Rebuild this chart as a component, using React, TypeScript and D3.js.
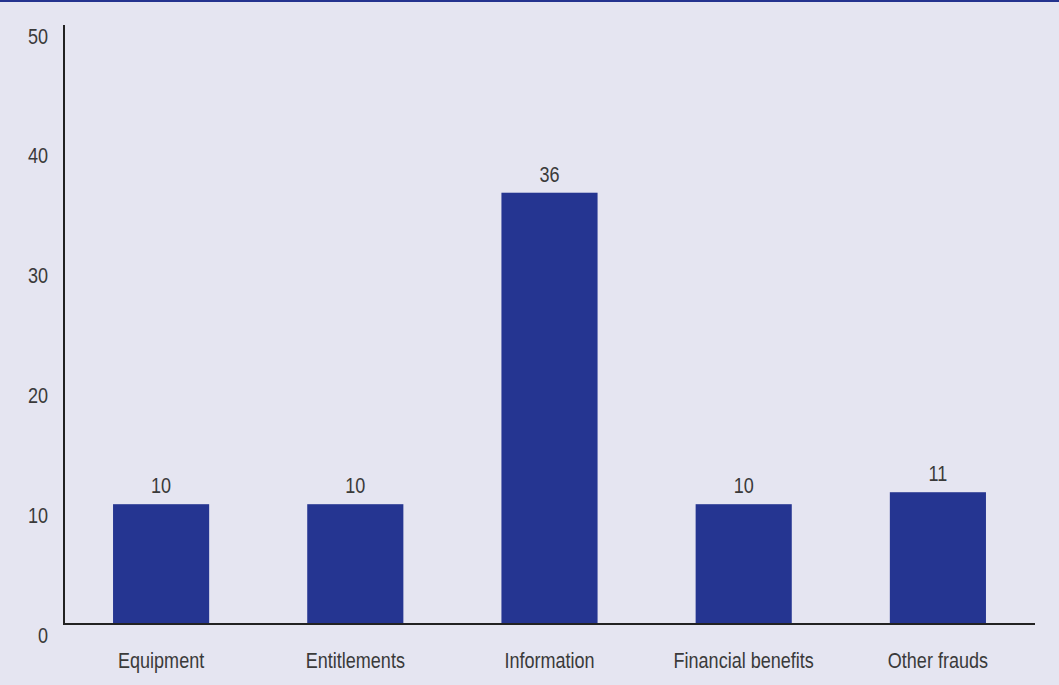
import React from "react";
import * as d3 from "d3";

const categories = ["Equipment", "Entitlements", "Information", "Financial benefits", "Other frauds"];
const values = [10, 10, 36, 10, 11];
const yTicks = [0, 10, 20, 30, 40, 50];

const W = 1059;
const H = 685;
const FONT = "'Liberation Sans', Arial, sans-serif";
const SX = 0.82;

function T({ x, y, anchor, children }: { x: number; y: number; anchor: string; children: React.ReactNode }) {
  return (
    <text
      transform={`translate(${x},${y}) scale(${SX},1)`}
      textAnchor={anchor}
      fontFamily={FONT}
      fontSize={22}
      fill="#3a3a3a"
    >
      {children}
    </text>
  );
}

export default function App() {
  const x = d3.scaleBand<string>().domain(categories).range([64, 1035]).paddingInner(0.505).paddingOuter(0.2525);
  const y = d3.scaleLinear().domain([0, 50]).range([624, 25]);
  const bw = x.bandwidth();
  return (
    <svg width={W} height={H} style={{ position: "fixed", left: 0, top: 0, display: "block" }}>
      <rect x={0} y={0} width={W} height={H} fill="#e5e5f1" />
      <rect x={0} y={0} width={W} height={2} fill="#24338f" />
      {categories.map((c, i) => (
        <g key={c}>
          <rect x={x(c)!} y={y(values[i])} width={bw} height={y(0) - y(values[i])} fill="#253591" />
          <T x={x(c)! + bw / 2} y={y(values[i]) - 11} anchor="middle">
            {d3.format("d")(values[i])}
          </T>
          <T x={x(c)! + bw / 2} y={668} anchor="middle">
            {c}
          </T>
        </g>
      ))}
      {yTicks.map((t) => (
        <T key={t} x={48} y={y(t) + 18.5} anchor="end">
          {t}
        </T>
      ))}
      <line x1={64} x2={64} y1={y(50)} y2={y(0) + 1} stroke="#222" strokeWidth={2} />
      <line x1={63} x2={1035} y1={y(0)} y2={y(0)} stroke="#222" strokeWidth={2} />
    </svg>
  );
}
